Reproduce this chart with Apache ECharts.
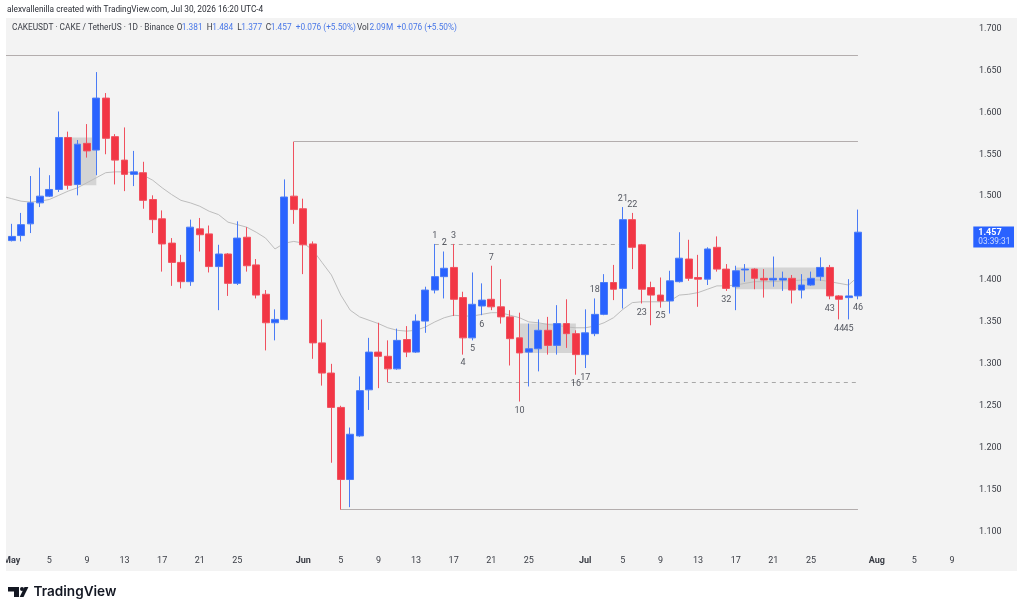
<!DOCTYPE html>
<html>
<head>
<meta charset="utf-8">
<title>CAKEUSDT daily</title>
<style>html,body{margin:0;padding:0;background:#fff}#chart{width:1024px;height:612px}</style>
<script src="https://cdn.jsdelivr.net/npm/echarts@6/dist/echarts.min.js"></script>
</head>
<body>
<div id="chart"></div>
<script>
// Daily candles, May 1 to Jul 30
const opens = [
  1.447,1.453,1.467,1.492,1.500,1.508,1.570,1.514,1.563,1.555,
  1.617,1.571,1.543,1.526,1.528,1.496,1.473,1.444,1.421,1.398,
  1.461,1.455,1.416,1.431,1.396,1.451,1.418,1.383,1.349,1.353,
  1.500,1.485,1.443,1.325,1.289,1.248,1.162,1.214,1.269,1.314,
  1.309,1.294,1.329,1.314,1.351,1.388,1.404,1.415,1.379,1.331,
  1.369,1.377,1.368,1.356,1.331,1.314,1.318,1.340,1.322,1.348,
  1.336,1.311,1.336,1.359,1.397,1.390,1.472,1.442,1.391,1.382,
  1.375,1.398,1.425,1.403,1.401,1.439,1.413,1.392,1.412,1.413,
  1.402,1.400,1.400,1.402,1.388,1.394,1.404,1.415,1.381,1.379,1.381
];
const closes = [
  1.452,1.466,1.492,1.500,1.508,1.570,1.513,1.562,1.554,1.617,
  1.569,1.543,1.526,1.529,1.495,1.472,1.443,1.421,1.398,1.463,
  1.454,1.416,1.431,1.396,1.450,1.417,1.382,1.349,1.353,1.499,
  1.484,1.442,1.325,1.289,1.248,1.162,1.216,1.268,1.314,1.309,
  1.294,1.328,1.314,1.351,1.388,1.404,1.414,1.377,1.331,1.371,
  1.376,1.368,1.356,1.330,1.313,1.318,1.340,1.322,1.348,1.336,
  1.311,1.337,1.359,1.397,1.389,1.472,1.439,1.389,1.382,1.375,
  1.399,1.426,1.402,1.401,1.437,1.413,1.390,1.411,1.413,1.402,
  1.400,1.402,1.402,1.388,1.394,1.402,1.415,1.381,1.377,1.381,1.457
];
const lows = [
  1.446,1.446,1.456,1.487,1.499,1.505,1.508,1.501,1.546,1.525,
  1.550,1.514,1.506,1.512,1.485,1.456,1.410,1.393,1.390,1.393,
  1.434,1.409,1.364,1.381,1.394,1.410,1.378,1.316,1.328,1.352,
  1.467,1.407,1.306,1.274,1.182,1.126,1.129,1.213,1.245,1.271,
  1.278,1.293,1.308,1.313,1.337,1.384,1.378,1.357,1.311,1.328,
  1.358,1.364,1.348,1.298,1.255,1.273,1.291,1.311,1.311,1.319,
  1.287,1.295,1.333,1.358,1.376,1.366,1.413,1.372,1.346,1.367,
  1.360,1.397,1.399,1.368,1.394,1.410,1.387,1.364,1.398,1.389,
  1.379,1.392,1.387,1.372,1.378,1.393,1.399,1.377,1.353,1.353,1.377
];
const highs = [
  1.467,1.480,1.524,1.534,1.525,1.601,1.577,1.567,1.586,1.648,
  1.623,1.574,1.582,1.554,1.541,1.501,1.483,1.450,1.430,1.472,
  1.474,1.465,1.442,1.432,1.470,1.463,1.425,1.388,1.365,1.520,
  1.565,1.497,1.446,1.353,1.300,1.250,1.224,1.285,1.331,1.349,
  1.328,1.342,1.345,1.359,1.392,1.443,1.434,1.443,1.386,1.409,
  1.396,1.417,1.401,1.364,1.361,1.348,1.353,1.356,1.370,1.377,
  1.340,1.365,1.378,1.407,1.418,1.487,1.480,1.443,1.398,1.403,
  1.411,1.457,1.448,1.430,1.439,1.452,1.419,1.417,1.419,1.414,
  1.413,1.428,1.410,1.406,1.407,1.410,1.427,1.418,1.382,1.401,1.484
];
// Moving average, one value for Apr 30 and then one per candle
const movingAverage = [
  1.500,
  1.497,1.494,1.493,1.494,1.496,1.501,1.506,1.510,1.516,1.522,
  1.528,1.529,1.529,1.528,1.525,1.519,1.510,1.502,1.495,1.492,
  1.488,1.482,1.478,1.469,1.466,1.463,1.457,1.450,1.437,1.444,
  1.446,1.444,1.436,1.421,1.406,1.382,1.364,1.356,1.352,1.348,
  1.343,1.340,1.339,1.340,1.344,1.350,1.355,1.358,1.357,1.357,
  1.359,1.361,1.361,1.358,1.355,1.350,1.349,1.347,1.346,1.344,
  1.343,1.343,1.345,1.349,1.355,1.365,1.373,1.374,1.374,1.374,
  1.375,1.382,1.383,1.385,1.389,1.393,1.393,1.394,1.396,1.398,
  1.398,1.398,1.399,1.399,1.400,1.400,1.400,1.398,1.396,1.394,1.404
];
// Bar count annotations: text, candle position, price
const countTexts  = ['1','2','3','4','5','6','7','10','16','17','18','21','22','23','25','32','43','44','45','46'];
const countCandle = [45,46,47,48,49,50,51,54,60,61,62,65,66,67,69,76,87,88,89,90];
const countPrices = [1.453,1.444,1.453,1.301,1.318,1.347,1.427,1.244,1.276,1.283,1.388,1.497,1.490,1.361,1.357,1.376,1.366,1.342,1.342,1.367];
// Shaded ranges: first candle, last candle, upper price, lower price
const rangeStart = [6,54,77];
const rangeEnd   = [9,60,87];
const rangeUpper = [1.570,1.348,1.415];
const rangeLower = [1.513,1.313,1.389];
// Trend lines: first candle (-1 reaches the left edge), last candle, price
const solidStart = [-1,30,35];
const solidEnd   = [90,90,90];
const solidPrice = [1.668,1.565,1.126];
const dashStart  = [45,40];
const dashEnd    = [65,90];
const dashPrice  = [1.443,1.278];
// Legend row: text, left edge, blue value or dark caption
const legendTexts = ['CAKEUSDT · CAKE / TetherUS · 1D · Binance','O','1.381','H','1.484','L','1.377','C','1.457','+0.076 (+5.50%)','Vol','2.09','M','+0.076 (+5.50%)'];
const legendLeft  = [12,176.7,181.7,206.7,212.3,237.3,241.3,265.7,270.7,295.7,357,369.5,386,396.7];
const legendIsValue = [0,0,1,0,1,0,1,0,1,1,0,1,1,1];

const monthLengths = [['Apr',30,30],['May',1,31],['Jun',1,30],['Jul',1,31],['Aug',1,11]];
const shownDays = [5,9,13,17,21,25];
const categories = [];
monthLengths.forEach(([m,from,to]) => { for (let d = from; d <= to; d++) categories.push(m + ' ' + d); });
const catAt = i => categories[i + 1];

const BLUE = '#2962ff', RED = '#f23645';
const BLUE_EDGE = '#4a7bf5', RED_EDGE = '#f0505e';
const FONT = 'Roboto, sans-serif';

const candleData = categories.map((_, k) => {
  const i = k - 1;
  return (i >= 0 && i < opens.length) ? [opens[i], closes[i], lows[i], highs[i]] : ['-','-','-','-'];
});

const lineStyleSolid = {type:'solid', color:'#b3adad', width:1.2, opacity:1};
const lineStyleDash = {type:[4,4], color:'#a8a8a8', width:1, opacity:1};
const lineData = [];
solidPrice.forEach((p,i) => lineData.push([
  {coord:[catAt(solidStart[i]),p], lineStyle:lineStyleSolid},{coord:[catAt(solidEnd[i]),p]}]));
dashPrice.forEach((p,i) => lineData.push([
  {coord:[catAt(dashStart[i]),p], lineStyle:lineStyleDash},{coord:[catAt(dashEnd[i]),p]}]));

const chart = echarts.init(document.getElementById('chart'), null, {renderer:'canvas'});
chart.setOption({
  animation:false,
  backgroundColor:'#ffffff',
  grid:{left:-2.4, top:28.5, width:977.9, height:503, outerBoundsMode:'none'},
  xAxis:{
    type:'category', data:categories, boundaryGap:true,
    axisLine:{show:false}, axisTick:{show:false}, splitLine:{show:false},
    axisLabel:{
      margin:25, color:'#3a3d45', fontFamily:FONT, fontSize:9,
      interval:(i,name)=>{ const d=+name.split(' ')[1]; return d===1 || shownDays.includes(d); },
      formatter:(name)=>{ const [m,d]=name.split(' '); return d==='1' ? '{m|'+m+'}' : d; },
      rich:{m:{fontWeight:'bold', fontFamily:FONT, fontSize:9, color:'#3a3d45'}}
    }
  },
  yAxis:{
    type:'value', position:'right', min:1.1, max:1.7, interval:0.05,
    axisLine:{show:false}, axisTick:{show:false}, splitLine:{show:false},
    axisLabel:{margin:3.5, color:'#3a3d45', fontFamily:FONT, fontSize:9, formatter:v=>v.toFixed(3)}
  },
  series:[
    {
      type:'line', data:movingAverage.map((v,i)=>[catAt(i-1),v]), z:3,
      symbol:'none', smooth:false, lineStyle:{color:'#bdbdbd', width:1}, silent:true
    },
    {
      type:'candlestick', data:candleData, barWidth:7.4, z:4, clip:false,
      itemStyle:{color:BLUE, color0:RED, borderColor:BLUE_EDGE, borderColor0:RED_EDGE, borderWidth:1},
      markArea:{
        silent:true, z:1,
        itemStyle:{color:'#c9c9c9', opacity:0.75},
        data:rangeUpper.map((u,i)=>[{coord:[catAt(rangeStart[i]),u]},{coord:[catAt(rangeEnd[i]),rangeLower[i]]}])
      },
      markLine:{
        silent:true, symbol:'none', z:2, label:{show:false},
        data:lineData
      }
    },
    {
      type:'scatter', z:6, symbolSize:0, silent:true,
      data:countTexts.map((t,i)=>({value:[catAt(countCandle[i]),countPrices[i]], name:t})),
      label:{show:true, position:'inside', formatter:p=>p.name, color:'#2a2e39', fontFamily:FONT, fontSize:9}
    }
  ],
  graphic:[
    {type:'rect', silent:true, z:-100, shape:{x:6,y:18,width:1011,height:553}, style:{fill:'#f3f3f3'}},
    {type:'rect', silent:true, z:100, shape:{x:0,y:0,width:6,height:612}, style:{fill:'#ffffff'}},
    {type:'text', silent:true, z:100, x:7, y:10, style:{
      text:'alexvallenilla created with TradingView.com, Jul 30, 2026 16:20 UTC-4',
      font:'8.3px '+FONT, fill:'#2b2e36', verticalAlign:'middle'}},
    ...legendTexts.map((t,i)=>({
      type:'text', silent:true, z:100, x:legendLeft[i], y:28, style:{
        text:t, font:'8.3px '+FONT, fill:legendIsValue[i] ? '#4a78e8' : '#3a3d45', verticalAlign:'middle'}})),
    {type:'rect', silent:true, z:100, shape:{x:973.3,y:226.6,width:40.7,height:21}, style:{fill:BLUE}},
    {type:'text', silent:true, z:101, x:978.3, y:232.7, style:{text:'1.457', font:'bold 9px '+FONT, fill:'#ffffff', verticalAlign:'middle'}},
    {type:'text', silent:true, z:101, x:978.3, y:242.3, style:{text:'03:39:31', font:'8.3px '+FONT, fill:'#cfdcff', verticalAlign:'middle'}},
    // TradingView mark and wordmark
    {type:'polygon', silent:true, z:100, shape:{points:[[8,587],[19,587],[19,597],[14,597],[14,591.5],[8,591.5]]}, style:{fill:'#131722'}},
    {type:'polygon', silent:true, z:100, shape:{points:[[24.5,587],[28.4,587],[23.5,597],[19.7,597]]}, style:{fill:'#131722'}},
    {type:'circle', silent:true, z:100, shape:{cx:22,cy:589,r:2}, style:{fill:'#131722'}},
    {type:'text', silent:true, z:100, x:33.5, y:592, style:{text:'TradingView', font:'600 13.6px Inter, sans-serif', fill:'#131722', verticalAlign:'middle'}}
  ]
});
</script>
</body>
</html>
